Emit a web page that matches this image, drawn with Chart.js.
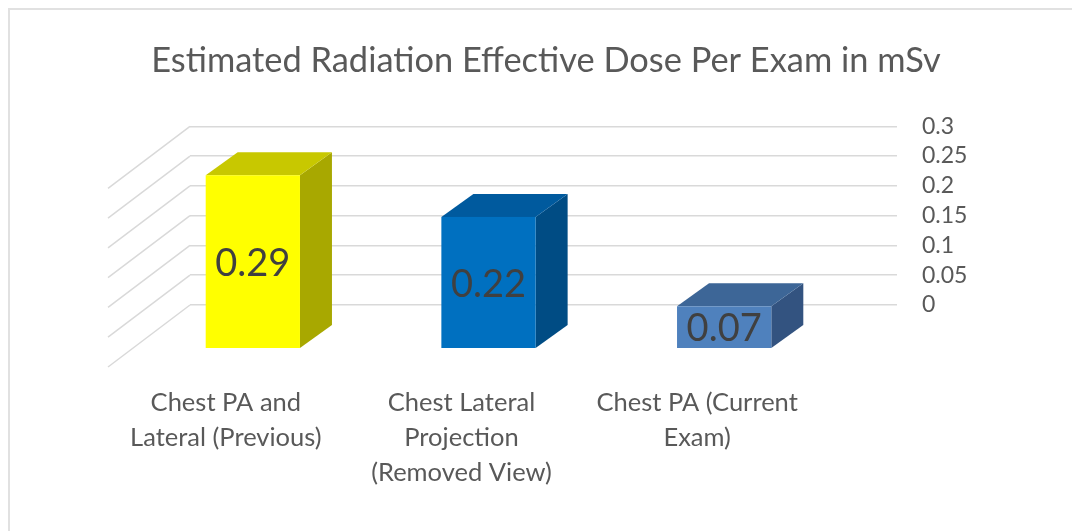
<!DOCTYPE html>
<html>
<head>
<meta charset="utf-8">
<script src="https://cdn.jsdelivr.net/npm/chart.js@4/dist/chart.umd.min.js"></script>
<style>
  html, body { margin: 0; padding: 0; background: #fff; }
  #wrap { width: 1072px; height: 531px; position: relative; }
</style>
</head>
<body>
<div id="wrap"><canvas id="doseChart"></canvas></div>
<script>
// data
const categories = [
    ['Chest PA and', 'Lateral (Previous)'],
    ['Chest Lateral', 'Projection', '(Removed View)'],
    ['Chest PA (Current', 'Exam)']
];
const doseValues = [0.29, 0.22, 0.07];
const yTicks = [0, 0.05, 0.1, 0.15, 0.2, 0.25, 0.3];

// face colours for the fake 3D boxes
const frontColors = ['#FFFF00', '#0070C0', '#4F81BD'];
const topColors = ['#C8C800', '#005A9E', '#3D6697'];
const sideColors = ['#A8A800', '#004C84', '#335380'];

const FONT = "Lato, 'Open Sans', sans-serif";
const TEXT = '#595959';

// offsets from the back wall to the front / back of the boxes, and the floor edge
const front = { dx: -55, dy: 43 };
const back = { dx: -23, dy: 20 };
const floorEdge = { dx: -82, dy: 62 };

// frame around the chart (top + left only)
const framePlugin = {
    id: 'frame',
    beforeDraw(chart) {
        const ctx = chart.ctx;
        ctx.save();
        ctx.strokeStyle = '#e1e1e1';
        ctx.lineWidth = 2;
        ctx.beginPath();
        ctx.moveTo(chart.width, 9);
        ctx.lineTo(9, 9);
        ctx.lineTo(9, chart.height);
        ctx.stroke();
        ctx.restore();
    }
};

// side wall lines going from the back wall towards the viewer
const sideWallPlugin = {
    id: 'sideWall',
    beforeDatasetsDraw(chart) {
        const ctx = chart.ctx;
        const y = chart.scales.y;
        const left = chart.chartArea.left;
        ctx.save();
        ctx.strokeStyle = '#d9d9d9';
        ctx.lineWidth = 1.5;
        yTicks.forEach(v => {
            const py = y.getPixelForValue(v);
            ctx.beginPath();
            ctx.moveTo(left, py);
            ctx.lineTo(left + floorEdge.dx, py + floorEdge.dy);
            ctx.stroke();
        });
        ctx.restore();
    }
};

// draws each bar as a box, projected forward from its position on the back wall
const boxPlugin = {
    id: 'boxes',
    afterDatasetsDraw(chart) {
        const ctx = chart.ctx;
        const meta = chart.getDatasetMeta(0);
        ctx.save();
        meta.data.forEach((bar, i) => {
            const p = bar.getProps(['x', 'y', 'base', 'width'], true);
            const L = p.x - p.width / 2, R = p.x + p.width / 2;
            const T = p.y, B = p.base;

            // right side
            ctx.fillStyle = sideColors[i];
            ctx.beginPath();
            ctx.moveTo(R + front.dx, T + front.dy);
            ctx.lineTo(R + back.dx, T + back.dy);
            ctx.lineTo(R + back.dx, B + back.dy);
            ctx.lineTo(R + front.dx, B + front.dy);
            ctx.closePath();
            ctx.fill();

            // top
            ctx.fillStyle = topColors[i];
            ctx.beginPath();
            ctx.moveTo(L + front.dx, T + front.dy);
            ctx.lineTo(R + front.dx, T + front.dy);
            ctx.lineTo(R + back.dx, T + back.dy);
            ctx.lineTo(L + back.dx, T + back.dy);
            ctx.closePath();
            ctx.fill();

            // front
            ctx.fillStyle = frontColors[i];
            ctx.fillRect(L + front.dx, T + front.dy, p.width, B - T);

            // value label
            ctx.fillStyle = '#404040';
            ctx.font = '38px ' + FONT;
            ctx.textAlign = 'center';
            ctx.textBaseline = 'middle';
            ctx.fillText(doseValues[i].toFixed(2), p.x + front.dx, (T + B) / 2 + front.dy + 2);
        });
        ctx.restore();
    }
};

new Chart(document.getElementById('doseChart'), {
    type: 'bar',
    data: {
        labels: categories,
        datasets: [{
            data: doseValues,
            backgroundColor: 'rgba(0,0,0,0)',
            borderWidth: 0,
            barPercentage: 0.8,
            categoryPercentage: 0.5
        }]
    },
    options: {
        responsive: true,
        maintainAspectRatio: false,
        animation: false,
        events: [],
        layout: { padding: { left: 20, right: 0, top: 0, bottom: 0 } },
        plugins: {
            legend: { display: false },
            tooltip: { enabled: false },
            title: {
                display: true,
                text: 'Estimated Radiation Effective Dose Per Exam in mSv',
                color: TEXT,
                font: { family: FONT, size: 34.4, weight: 'normal', lineHeight: 1.2 },
                padding: { top: 40, bottom: 45 }
            }
        },
        scales: {
            x: {
                grid: { display: false, drawTicks: false },
                border: { display: false },
                ticks: {
                    color: TEXT,
                    font: { family: FONT, size: 25.5, lineHeight: 1.37 },
                    maxRotation: 0,
                    autoSkip: false,
                    padding: 80,
                    labelOffset: floorEdge.dx
                },
                afterFit(scale) { scale.height = 226; }
            },
            // empty left axis, only reserves the room for the side wall
            yLeft: {
                position: 'left',
                grid: { display: false, drawTicks: false },
                border: { display: false },
                ticks: { display: false },
                afterFit(scale) { scale.width = 170; }
            },
            y: {
                position: 'right',
                min: 0,
                max: 0.3,
                grid: { color: '#d9d9d9', lineWidth: 1.5, drawTicks: false },
                border: { display: false },
                afterBuildTicks(scale) {
                    scale.ticks = yTicks.map(v => ({ value: v }));
                },
                ticks: {
                    color: TEXT,
                    padding: 25,
                    autoSkip: false,
                    font: { family: FONT, size: 23, lineHeight: 1 },
                    callback: v => String(v)
                },
                afterFit(scale) { scale.width = 175; }
            }
        }
    },
    plugins: [framePlugin, sideWallPlugin, boxPlugin]
});
</script>
</body>
</html>
